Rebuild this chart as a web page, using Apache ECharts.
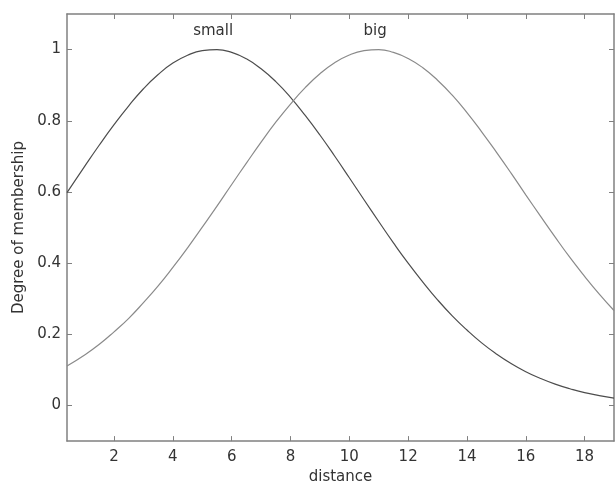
<!DOCTYPE html>
<html>
<head>
<meta charset="utf-8">
<script src="https://cdn.jsdelivr.net/npm/echarts@6/dist/echarts.min.js"></script>
<style>
  html, body { margin: 0; padding: 0; background: #fff; }
  #main { width: 615px; height: 490px; }
</style>
</head>
<body>
<div id="main"></div>
<script>
// distance samples
const distance = [0.4, 1, 1.5, 2, 2.5, 3, 3.5, 4, 4.5, 5, 5.5, 6, 6.5, 7, 7.5, 8, 8.5, 9, 9.5, 10,
  10.5, 11, 11.5, 12, 12.5, 13, 13.5, 14, 14.5, 15, 15.5, 16, 16.5, 17, 17.5, 18, 18.5, 19];
// membership of "small"
const small = [0.598, 0.672, 0.732, 0.789, 0.842, 0.890, 0.930, 0.962, 0.984, 0.997, 1.000, 0.992,
  0.974, 0.946, 0.910, 0.866, 0.815, 0.760, 0.701, 0.640, 0.578, 0.517, 0.457, 0.400, 0.347,
  0.297, 0.252, 0.212, 0.176, 0.145, 0.118, 0.095, 0.076, 0.060, 0.047, 0.036, 0.028, 0.021];
// membership of "big"
const big = [0.111, 0.142, 0.172, 0.207, 0.245, 0.289, 0.336, 0.388, 0.443, 0.501, 0.560, 0.621,
  0.681, 0.740, 0.796, 0.847, 0.893, 0.932, 0.963, 0.985, 0.997, 1.000, 0.992, 0.975, 0.949,
  0.914, 0.872, 0.823, 0.769, 0.712, 0.653, 0.592, 0.532, 0.473, 0.416, 0.363, 0.313, 0.267];
const xTicks = [2, 4, 6, 8, 10, 12, 14, 16, 18];
const yTicks = [0, 0.2, 0.4, 0.6, 0.8, 1];
const labelNames = ['small', 'big'];
const labelX = [5.37, 10.88];
const labelY = [1.052, 1.052];

const chart = echarts.init(document.getElementById('main'));

const axisColor = '#808080';
const textColor = '#333';
const fontFamily = 'DejaVu Sans';

function xAx(pos, showLabel) {
  return {
    type: 'value',
    position: pos,
    min: 0.4,
    max: 19,
    splitLine: { show: false },
    axisLine: { show: true, onZero: false, lineStyle: { color: axisColor, width: 1.5 } },
    axisTick: { show: true, inside: true, length: 5, customValues: xTicks, lineStyle: { color: axisColor } },
    axisLabel: {
      show: showLabel, customValues: xTicks, margin: 9,
      color: textColor, fontSize: 15, fontFamily: fontFamily
    },
    name: showLabel ? 'distance' : '',
    nameLocation: 'middle',
    nameGap: 27,
    nameTextStyle: { color: textColor, fontSize: 15, fontFamily: fontFamily }
  };
}

function yAx(pos, showLabel) {
  return {
    type: 'value',
    position: pos,
    min: -0.1,
    max: 1.1,
    splitLine: { show: false },
    axisLine: { show: true, onZero: false, lineStyle: { color: axisColor, width: 1.5 } },
    axisTick: { show: true, inside: true, length: 5, customValues: yTicks, lineStyle: { color: axisColor } },
    axisLabel: {
      show: showLabel, customValues: yTicks, margin: 6,
      color: textColor, fontSize: 15, fontFamily: fontFamily,
      formatter: v => String(+v.toFixed(1))
    },
    name: showLabel ? 'Degree of membership' : '',
    nameLocation: 'middle',
    nameGap: 37,
    nameTextStyle: { color: textColor, fontSize: 15, fontFamily: fontFamily }
  };
}

function curve(name, values, color, idx) {
  return {
    name: name,
    type: 'line',
    showSymbol: false,
    smooth: true,
    lineStyle: { color: color, width: 1.2 },
    data: distance.map((x, i) => [x, values[i]]),
    markPoint: {
      symbol: 'circle',
      symbolSize: 0,
      label: {
        show: true, position: 'inside', formatter: labelNames[idx],
        color: textColor, fontSize: 15, fontFamily: fontFamily
      },
      data: [{ coord: [labelX[idx], labelY[idx]] }]
    }
  };
}

chart.setOption({
  animation: false,
  backgroundColor: '#fff',
  grid: { left: 67, right: 1, top: 14, bottom: 43 },
  xAxis: [xAx('bottom', true), xAx('top', false)],
  yAxis: [yAx('left', true), yAx('right', false)],
  series: [
    curve('small', small, '#4d4d4d', 0),
    curve('big', big, '#8a8a8a', 1)
  ]
});
</script>
</body>
</html>
